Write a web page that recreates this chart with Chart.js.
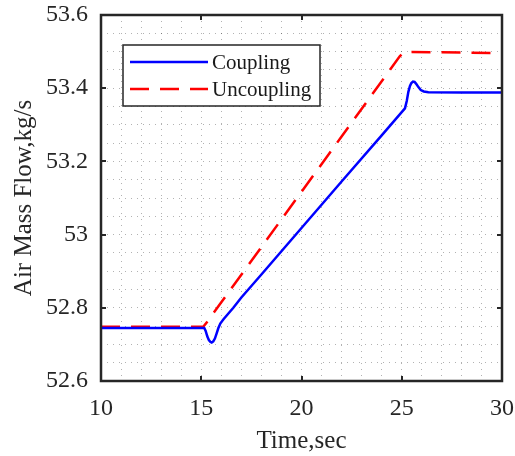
<!DOCTYPE html>
<html>
<head>
<meta charset="utf-8">
<style>
  html, body { margin: 0; padding: 0; background: #fff; }
  #wrap { width: 515px; height: 456px; }
</style>
<script src="https://cdn.jsdelivr.net/npm/chart.js@4/dist/chart.umd.min.js"></script>
</head>
<body>
<div id="wrap"><canvas id="c" width="515" height="456"></canvas></div>
<script>
// ---- data ----
const couplingTime = [10, 15.0, 15.15, 15.22, 15.3, 15.38, 15.45, 15.52, 15.6, 15.68, 15.76, 15.85, 15.95, 16.1, 16.3, 16.6, 17, 18, 20, 22, 24, 25.16, 25.25, 25.33, 25.41, 25.48, 25.56, 25.64, 25.72, 25.83, 25.95, 26.1, 26.33, 28, 30];
const couplingFlow = [52.745, 52.745, 52.745, 52.737, 52.722, 52.712, 52.707, 52.705, 52.708, 52.716, 52.729, 52.744, 52.757, 52.768, 52.781, 52.800, 52.828, 52.891, 53.018, 53.145, 53.271, 53.345, 53.365, 53.390, 53.406, 53.414, 53.418, 53.417, 53.412, 53.403, 53.395, 53.391, 53.389, 53.388, 53.388];
const uncouplingTime = [10, 15.1, 15.3, 16, 18, 20, 22, 24, 24.9, 25.1, 25.5, 30];
const uncouplingFlow = [52.748, 52.748, 52.762, 52.815, 52.966, 53.117, 53.268, 53.419, 53.487, 53.498, 53.499, 53.496];
const xTickLabels = ['10', '15', '20', '25', '30'];
const yTickLabels = ['52.6', '52.8', '53', '53.2', '53.4', '53.6'];
const seriesNames = ['Coupling', 'Uncoupling'];

const SERIF = "'Liberation Serif', 'Times New Roman', serif";
const INK = '#262626';
Chart.defaults.font.family = SERIF;

function toPoints(xs, ys) { return xs.map((x, i) => ({ x: x, y: ys[i] })); }

const frameAndLegend = {
  id: 'frameAndLegend',
  afterDatasetsDraw(chart) {
    const { ctx, chartArea: a, scales } = chart;
    const xs = scales.x, ys = scales.y;
    ctx.save();
    // inward major ticks
    ctx.strokeStyle = INK;
    ctx.lineWidth = 2;
    ctx.beginPath();
    xTickLabels.forEach(l => {
      const px = Math.round(xs.getPixelForValue(parseFloat(l)));
      ctx.moveTo(px, a.bottom); ctx.lineTo(px, a.bottom - 5);
      ctx.moveTo(px, a.top); ctx.lineTo(px, a.top + 5);
    });
    yTickLabels.forEach(l => {
      const py = Math.round(ys.getPixelForValue(parseFloat(l)));
      ctx.moveTo(a.left, py); ctx.lineTo(a.left + 5, py);
      ctx.moveTo(a.right, py); ctx.lineTo(a.right - 5, py);
    });
    ctx.stroke();
    // frame
    ctx.lineWidth = 2.5;
    ctx.strokeRect(a.left, a.top, a.right - a.left, a.bottom - a.top);

    // legend
    const lx = a.left + 22, ly = a.top + 30, lw = 197, lh = 61;
    ctx.fillStyle = '#fff';
    ctx.fillRect(lx, ly, lw, lh);
    ctx.lineWidth = 1.5;
    ctx.strokeStyle = INK;
    ctx.strokeRect(lx, ly, lw, lh);
    chart.data.datasets.forEach((ds, i) => {
      const y = ly + 17 + i * 27;
      ctx.strokeStyle = ds.borderColor;
      ctx.lineWidth = 2.5;
      ctx.setLineDash(ds.borderDash || []);
      ctx.beginPath();
      ctx.moveTo(lx + 7, y); ctx.lineTo(lx + 85, y);
      ctx.stroke();
      ctx.setLineDash([]);
      ctx.fillStyle = '#1a1a1a';
      ctx.font = '21px ' + SERIF;
      ctx.textAlign = 'left';
      ctx.textBaseline = 'middle';
      ctx.fillText(ds.label, lx + 89, y + 1);
    });
    ctx.restore();
  }
};

new Chart(document.getElementById('c'), {
  type: 'line',
  data: {
    datasets: [
      {
        label: seriesNames[0],
        data: toPoints(couplingTime, couplingFlow),
        borderColor: '#0000ff',
        borderWidth: 2.5,
        pointRadius: 0,
        tension: 0,
        fill: false
      },
      {
        label: seriesNames[1],
        data: toPoints(uncouplingTime, uncouplingFlow),
        borderColor: '#ff0000',
        borderWidth: 2.5,
        borderDash: [19, 11],
        pointRadius: 0,
        tension: 0,
        fill: false
      }
    ]
  },
  options: {
    responsive: false,
    animation: false,
    layout: { padding: { left: 0, right: 13, top: 15, bottom: 0 } },
    plugins: { legend: { display: false }, tooltip: { enabled: false } },
    scales: {
      x: {
        type: 'linear',
        min: 10, max: 30,
        afterFit: s => { s.height = 75; s.paddingLeft = 0; s.paddingRight = 0; },
        ticks: {
          stepSize: 1,
          autoSkip: false,
          maxRotation: 0,
          padding: 13,
          color: INK,
          font: { family: SERIF, size: 24 },
          callback: v => {
            const l = xTickLabels.find(t => Math.abs(parseFloat(t) - v) < 1e-6);
            return l === undefined ? '' : l;
          }
        },
        grid: { color: 'rgba(0,0,0,0.3)', lineWidth: 1, drawTicks: false },
        border: { display: false, dash: [1, 5] },
        title: {
          display: true, text: 'Time,sec', color: INK,
          font: { family: SERIF, size: 25 },
          padding: { top: 0, bottom: 0 }
        }
      },
      y: {
        type: 'linear',
        min: 52.6, max: 53.6,
        afterFit: s => { s.width = 101; s.paddingTop = 0; s.paddingBottom = 0; },
        ticks: {
          stepSize: 0.05,
          autoSkip: false,
          padding: 13,
          color: INK,
          font: { family: SERIF, size: 24 },
          callback: v => {
            const l = yTickLabels.find(t => Math.abs(parseFloat(t) - v) < 1e-6);
            return l === undefined ? '' : l;
          }
        },
        grid: { color: 'rgba(0,0,0,0.3)', lineWidth: 1, drawTicks: false },
        border: { display: false, dash: [1, 5] },
        title: {
          display: true, text: 'Air Mass Flow,kg/s', color: INK,
          font: { family: SERIF, size: 25 },
          padding: { top: 9, bottom: 0 }
        }
      }
    }
  },
  plugins: [frameAndLegend]
});
</script>
</body>
</html>
